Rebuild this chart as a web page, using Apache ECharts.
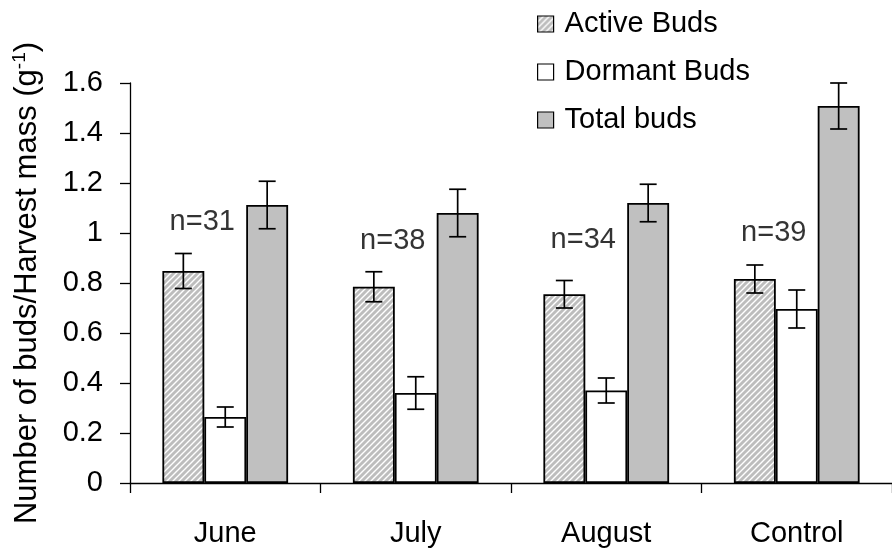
<!DOCTYPE html>
<html>
<head>
<meta charset="utf-8">
<script src="https://cdn.jsdelivr.net/npm/echarts@6/dist/echarts.min.js"></script>
<style>html,body{margin:0;padding:0;background:#fff;}#c{width:892px;height:551px;}</style>
</head>
<body>
<div id="c"></div>
<script>
const categories = ['June', 'July', 'August', 'Control'];
const seriesNames = ['Active Buds', 'Dormant Buds', 'Total buds'];
const activeBuds = [0.848, 0.785, 0.755, 0.816];
const activeErr = [0.07, 0.06, 0.055, 0.056];
const dormantBuds = [0.264, 0.36, 0.37, 0.696];
const dormantErr = [0.04, 0.065, 0.05, 0.076];
const totalBuds = [1.112, 1.08, 1.12, 1.508];
const totalErr = [0.095, 0.095, 0.075, 0.092];
const nLabels = ['n=31', 'n=38', 'n=34', 'n=39'];
const nLabelY = [1.045, 0.968, 0.972, 1.0];
const yTicks = [0, 0.2, 0.4, 0.6, 0.8, 1, 1.2, 1.4, 1.6];

const FONT = "'Liberation Sans', Arial, sans-serif";
const FS = 29;

function makeHatch() {
  const c = document.createElement('canvas');
  c.width = 6; c.height = 6;
  const g = c.getContext('2d');
  g.fillStyle = '#bdbdbd';
  g.fillRect(0, 0, 6, 6);
  g.strokeStyle = '#ffffff';
  g.lineWidth = 1.4;
  g.beginPath();
  g.moveTo(-1, 7); g.lineTo(7, -1);
  g.moveTo(-1, 1); g.lineTo(1, -1);
  g.moveTo(5, 7); g.lineTo(7, 5);
  g.stroke();
  return c;
}
const hatch = { image: makeHatch(), repeat: 'repeat' };

const BAR_FRAC = 0.22;
const values = [activeBuds, dormantBuds, totalBuds];
const errs = [activeErr, dormantErr, totalErr];
const fills = [hatch, '#ffffff', '#c0c0c0'];

function errSeries(k) {
  return {
    type: 'custom',
    z: 10,
    silent: true,
    data: categories.map((c, i) => [i, values[k][i], errs[k][i]]),
    renderItem: function (params, api) {
      const i = api.value(0), v = api.value(1), e = api.value(2);
      const band = api.size([1, 0])[0];
      const dx = band * BAR_FRAC * (k - 1);
      const top = api.coord([i, v + e]);
      const bot = api.coord([i, v - e]);
      const x = top[0] + dx;
      const cw = 8.5;
      const st = { stroke: '#000', lineWidth: 1.7 };
      return {
        type: 'group',
        children: [
          { type: 'line', shape: { x1: x, y1: top[1], x2: x, y2: bot[1] }, style: st },
          { type: 'line', shape: { x1: x - cw, y1: top[1], x2: x + cw, y2: top[1] }, style: st },
          { type: 'line', shape: { x1: x - cw, y1: bot[1], x2: x + cw, y2: bot[1] }, style: st }
        ]
      };
    }
  };
}

const barSeries = seriesNames.map((name, k) => ({
  name: name,
  type: 'bar',
  data: values[k],
  barWidth: (BAR_FRAC * 100) + '%',
  barGap: '0%',
  itemStyle: { color: fills[k], borderColor: '#000', borderWidth: 1.8 },
  emphasis: { disabled: true }
}));

const chart = echarts.init(document.getElementById('c'), null, { renderer: 'canvas' });
chart.setOption({
  animation: false,
  backgroundColor: '#fff',
  textStyle: { fontFamily: FONT },
  grid: { left: 130, top: 83, bottom: 68, width: 764 },
  legend: {
    orient: 'vertical',
    left: 532,
    top: 3,
    icon: 'rect',
    itemWidth: 16,
    itemHeight: 16,
    itemGap: 16,
    data: seriesNames,
    selectedMode: false,
    textStyle: { fontFamily: FONT, fontSize: FS, color: '#000', lineHeight: 32, padding: [0, 0, 0, 6] },
    itemStyle: { borderColor: '#000', borderWidth: 1.2 }
  },
  xAxis: {
    type: 'category',
    data: categories,
    axisLine: { lineStyle: { color: '#000', width: 1.3 } },
    axisTick: { show: true, length: 10, lineStyle: { color: '#000', width: 1.3 } },
    axisLabel: { color: '#000', fontSize: FS, fontFamily: FONT, margin: 36 }
  },
  yAxis: {
    type: 'value',
    min: yTicks[0],
    max: yTicks[yTicks.length - 1],
    interval: 0.2,
    splitLine: { show: false },
    axisLine: { show: true, lineStyle: { color: '#000', width: 1.3 } },
    axisTick: { show: true, length: 10, lineStyle: { color: '#000', width: 1.3 } },
    axisLabel: { color: '#000', fontSize: FS, fontFamily: FONT, margin: 27 },
    name: '{t|Number of buds/Harvest mass (g}{s|-1}{t|)}',
    nameLocation: 'middle',
    nameGap: 86,
    nameRotate: 90,
    nameTextStyle: {
      rich: {
        t: { fontSize: 31, fontFamily: FONT, color: '#000' },
        s: { fontSize: 19, fontFamily: FONT, color: '#000', verticalAlign: 'top', padding: [0, 0, 15, 0] }
      }
    }
  },
  series: barSeries.concat([errSeries(0), errSeries(1), errSeries(2), {
    type: 'scatter',
    symbolSize: 0,
    silent: true,
    data: nLabelY,
    label: {
      show: true,
      position: 'inside',
      offset: [-23, 0],
      formatter: p => nLabels[p.dataIndex],
      fontSize: FS,
      fontFamily: FONT,
      color: '#000'
    }
  }])
});
</script>
</body>
</html>
